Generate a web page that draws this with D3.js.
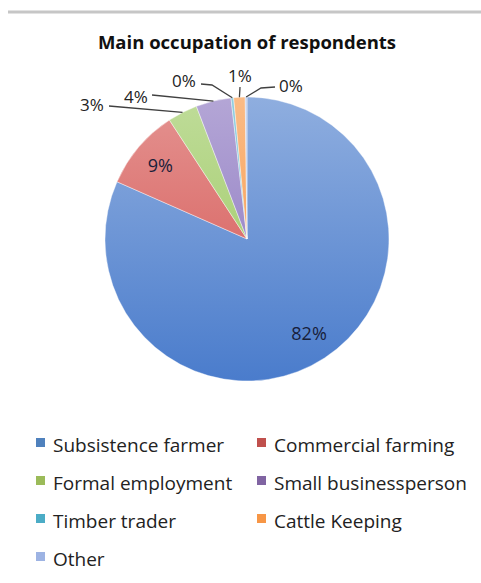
<!DOCTYPE html>
<html>
<head>
<meta charset="utf-8">
<script src="https://cdn.jsdelivr.net/npm/d3@7"></script>
<style>
  body { margin: 0; background: #fff; }
  svg { display: block; font-family: "Open Sans", sans-serif; }
</style>
</head>
<body>
<div id="chart"></div>
<script>
// datos
const categorias = ["Subsistence farmer", "Commercial farming", "Formal employment",
  "Small businessperson", "Timber trader", "Cattle Keeping", "Other"]
const valores = [81.6, 9.2, 3.4, 4.0, 0.3, 1.3, 0.2]
const etiquetas = ["82%", "9%", "3%", "4%", "0%", "1%", "0%"]
const colores = ["#4a7ccc", "#d4504d", "#98c65a", "#8670bd", "#4fb0cc", "#f7913c", "#98b0e4"]
const coloresLeyenda = ["#4f81bd", "#c0504d", "#9bbb59", "#8064a2", "#4bacc6", "#f79646", "#9db3e3"]

// medidas
const ancho = 481
const alto = 583
const cx = 247, cy = 239, radio = 142

// posicion de etiquetas exteriores (relativas al centro), null = dentro
const posEtiqueta = [null, null, [-155, -134], [-111, -142], [-63, -158], [-7, -163], [44, -153]]
// inicio de la linea guia y codo opcional (relativos a la etiqueta)
const guia = [null, null, [[17, 1]], [[16, -2]], [[17, 3], [28, 4]], [[0, 11]], [[-16, 1], [-30, 2]]]

const svg = d3.select("#chart").append("svg").attr("width", ancho).attr("height", alto)

// linea gris superior
svg.append("line").attr("x1", 8).attr("x2", ancho).attr("y1", 12).attr("y2", 12)
  .attr("stroke", "#c6c6c6").attr("stroke-width", 3)

svg.append("text").attr("x", 247).attr("y", 49).attr("text-anchor", "middle")
  .attr("font-weight", "bold").attr("font-size", 18.5).attr("fill", "#111")
  .text("Main occupation of respondents")

// gradientes (coordenadas del grupo del pie)
const defs = svg.append("defs")
colores.forEach((c, i) => {
  const g = defs.append("linearGradient").attr("id", "grad" + i)
    .attr("gradientUnits", "userSpaceOnUse")
    .attr("x1", 0).attr("x2", 0).attr("y1", -radio).attr("y2", radio)
  g.append("stop").attr("offset", "0%").attr("stop-color", d3.interpolateRgb(c, "#fff")(0.38))
  g.append("stop").attr("offset", "100%").attr("stop-color", c)
})

const pie = d3.pie().sort(null).value(d => d)
const arcos = pie(valores)
const arco = d3.arc().innerRadius(0).outerRadius(radio)
const arcoEtiqueta = d3.arc().innerRadius(radio * 0.8).outerRadius(radio * 0.8)

const grupoPie = svg.append("g").attr("transform", `translate(${cx},${cy})`)

grupoPie.selectAll("path").data(arcos).enter().append("path")
  .attr("d", arco)
  .attr("fill", (d, i) => `url(#grad${i})`)
  .attr("stroke", "#fff").attr("stroke-width", 0.4)

// etiquetas
arcos.forEach((d, i) => {
  if (!posEtiqueta[i]) {
    const [x, y] = arcoEtiqueta.centroid(d)
    grupoPie.append("text").attr("x", x).attr("y", y).attr("dy", "0.35em")
      .attr("text-anchor", "middle").attr("font-size", 18).attr("fill", "#18203a")
      .text(etiquetas[i])
  } else {
    const [lx, ly] = posEtiqueta[i]
    const medio = (d.startAngle + d.endAngle) / 2
    const borde = [Math.sin(medio) * radio, -Math.cos(medio) * radio]
    const puntos = guia[i].map(p => [lx + p[0], ly + p[1]]).concat([borde])
    grupoPie.append("path").attr("d", d3.line()(puntos))
      .attr("fill", "none").attr("stroke", "#404040").attr("stroke-width", 1.3)
    grupoPie.append("text").attr("x", lx).attr("y", ly).attr("dy", "0.35em")
      .attr("text-anchor", "middle").attr("font-size", 17).attr("fill", "#222")
      .text(etiquetas[i])
  }
})

// leyenda
const leyenda = svg.append("g")
categorias.forEach((c, i) => {
  const col = i % 2, fila = Math.floor(i / 2)
  const x = col === 0 ? 36 : 257
  const y = 452 + fila * 38
  leyenda.append("rect").attr("x", x).attr("y", y - 14).attr("width", 9).attr("height", 9)
    .attr("fill", coloresLeyenda[i])
  leyenda.append("text").attr("x", x + 17).attr("y", y)
    .attr("font-size", 19).attr("fill", "#222").text(c)
})
</script>
</body>
</html>
